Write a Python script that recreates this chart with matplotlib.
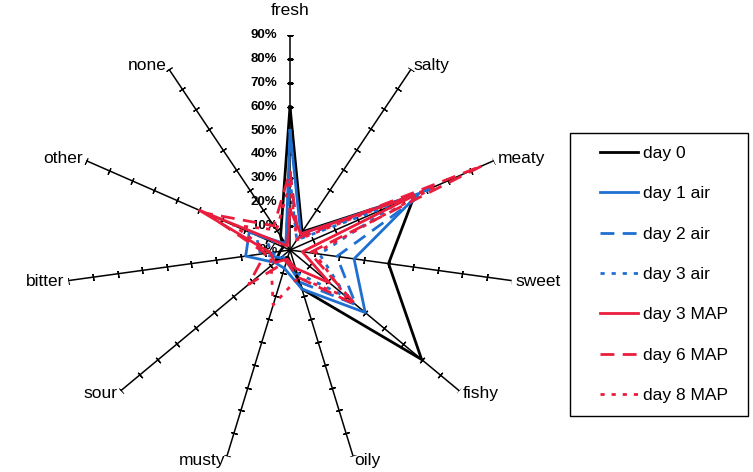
import numpy as np
import matplotlib.pyplot as plt
from matplotlib.patches import Rectangle

plt.rcParams['font.family'] = ['Liberation Sans', 'DejaVu Sans']

# attributes, clockwise from the top
categories = ["fresh", "salty", "meaty", "sweet", "fishy", "oily",
              "musty", "sour", "bitter", "other", "none"]

# share of panel (%) per attribute
day0 = [60, 9, 55, 40, 70, 17, 3, 8, 4, 3, 7]
day1_air = [50, 8, 57, 26, 40, 17, 8, 8, 18, 18, 3]
day2_air = [33, 6, 62, 19, 35, 14, 5, 5, 12, 15, 3]
day3_air = [30, 5, 48, 12, 30, 10, 5, 4, 8, 10, 3]
day3_map = [17, 8, 55, 5, 21, 8, 4, 8, 8, 40, 2]
day6_map = [33, 6, 85, 8, 35, 12, 5, 22, 10, 37, 12]
day8_map = [28, 5, 65, 10, 30, 12, 24, 10, 8, 25, 10]

series_labels = ["day 0", "day 1 air", "day 2 air", "day 3 air",
                 "day 3 MAP", "day 6 MAP", "day 8 MAP"]
tick_values = [0, 10, 20, 30, 40, 50, 60, 70, 80, 90]

BLUE = "#1f6fd1"
RED = "#ea1d3c"

W, H = 753, 472
cx, cy, rx, ry = 290, 250, 224, 215   # centre and radii in pixels

fig = plt.figure(figsize=(W / 100, H / 100), dpi=100)
ax = fig.add_axes([(cx - rx) / W, (H - cy - ry) / H, 2 * rx / W, 2 * ry / H],
                  projection="polar")
ax.set_aspect("auto")
ax.set_theta_zero_location("N")
ax.set_theta_direction(-1)
ax.set_ylim(0, 90)
ax.grid(False)
ax.spines["polar"].set_visible(False)
ax.set_xticks([])
ax.set_yticks([])
ax.patch.set_alpha(0)

n = len(categories)
angles = np.arange(n) * 2 * np.pi / n

# spokes with little cross ticks every 10%
for i, a in enumerate(angles):
    ax.plot([a, a], [0, 90], color="black", lw=1.1, zorder=1)
    rot = 90 - np.degrees(a)
    ax.plot([a] * 9, tick_values[1:], linestyle="none",
            marker=(2, 2, rot), markersize=5, markeredgewidth=0.9,
            color="black", zorder=1)

# percent labels on the top spoke
for v in tick_values:
    ax.annotate(f"{v}%", xy=(0, v), xytext=(-9, 0), textcoords="offset points",
                ha="right", va="center", fontsize=9.5, fontweight="bold")

# category labels just past the spoke ends
for name, a in zip(categories, angles):
    dx, dy = np.sin(a), np.cos(a)
    ha = "center" if abs(dx) < 0.2 else ("left" if dx > 0 else "right")
    va = "center"
    off = 3
    if abs(dx) < 0.2:
        va = "bottom" if dy > 0 else "top"
        if dy > 0:
            off = 12
    ax.annotate(name, xy=(a, 90), xytext=(off * dx, off * dy),
                textcoords="offset points", ha=ha, va=va, fontsize=12.5)

styles = [
    (day0, "black", "-"),
    (day1_air, BLUE, "-"),
    (day2_air, BLUE, (0, (5, 3))),
    (day3_air, BLUE, (0, (1.5, 2.5))),
    (day3_map, RED, "-"),
    (day6_map, RED, (0, (5, 3))),
    (day8_map, RED, (0, (1.5, 2.5))),
]
theta = np.append(angles, angles[0])
handles = []
for (vals, col, ls), lab in zip(styles, series_labels):
    r = np.append(vals, vals[0])
    h, = ax.plot(theta, r, color=col, linestyle=ls, lw=2, label=lab, zorder=3)
    handles.append(h)

# legend entries without frame, and a plain box drawn around them
fig.legend(handles=handles, loc="upper left",
           bbox_to_anchor=(600 / W, 1 - 146 / H),
           fontsize=12.5, frameon=False, labelspacing=1.45, handlelength=2.2,
           handletextpad=0.3, borderpad=0, borderaxespad=0)
fig.patches.append(Rectangle((570 / W, 1 - 416 / H), 178 / W, 283 / H,
                             transform=fig.transFigure, fill=False,
                             edgecolor="black", lw=1.0))

fig.savefig("out.png", dpi=100)
